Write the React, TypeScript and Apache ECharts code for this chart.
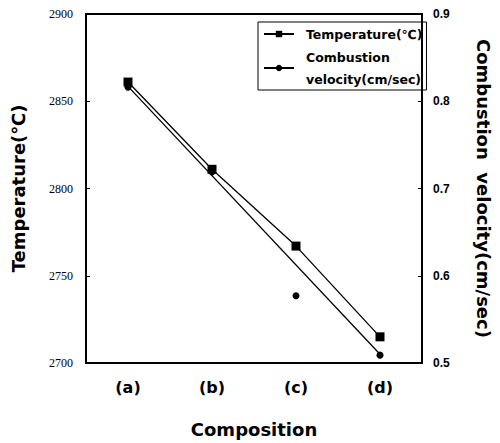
import React, { useEffect, useRef } from "react";
import * as echarts from "echarts";

const categories = ["(a)", "(b)", "(c)", "(d)"];
const temperature = [2861, 2811, 2767, 2715];
const velocityPoints = [0.816, 0.719, 0.577, 0.509];
const velocityFit: [number, number][] = [
  [0, 0.817],
  [3, 0.51],
];
const tempTicks = { min: 2700, max: 2900, interval: 50 };
const velTicks = { min: 0.5, max: 0.9, interval: 0.1 };

const SANS = "Liberation Sans, Arial, sans-serif";
const WIDE = "DejaVu Sans, sans-serif";
const VEL_NAME = "Combustion\nvelocity(cm/sec)";

export default function App() {
  const ref = useRef<HTMLDivElement>(null);
  useEffect(() => {
    if (!ref.current) return;
    const chart = echarts.init(ref.current, undefined, { renderer: "svg" });
    chart.setOption({
      animation: false,
      backgroundColor: "#fff",
      grid: {
        left: 86,
        right: 65,
        top: 14,
        bottom: 73,
        show: true,
        borderColor: "#000",
        borderWidth: 2,
      },
      legend: {
        orient: "vertical",
        left: 258,
        top: 22,
        borderColor: "#000",
        borderWidth: 1,
        padding: [1, 4, 0, 5],
        itemGap: 1,
        itemWidth: 30,
        itemHeight: 8,
        data: ["Temperature(℃)", VEL_NAME],
        textStyle: {
          fontFamily: WIDE,
          fontWeight: "bold",
          fontSize: 12.5,
          color: "#000",
          lineHeight: 22,
          padding: [0, 0, 0, 7],
        },
      },
      xAxis: {
        type: "category",
        data: categories,
        boundaryGap: true,
        name: "Composition",
        nameLocation: "middle",
        nameGap: 57,
        nameTextStyle: {
          fontFamily: WIDE,
          fontWeight: "bold",
          fontSize: 18,
          color: "#000",
        },
        axisLine: { show: true, lineStyle: { color: "#000", width: 2 } },
        axisTick: { show: false },
        axisLabel: {
          fontFamily: WIDE,
          fontWeight: "bold",
          fontSize: 16,
          color: "#000",
          margin: 16,
        },
        splitLine: { show: false },
      },
      yAxis: [
        {
          type: "value",
          min: tempTicks.min,
          max: tempTicks.max,
          interval: tempTicks.interval,
          name: "Temperature(℃)",
          nameLocation: "middle",
          nameRotate: 90,
          nameGap: 59,
          nameTextStyle: {
            fontFamily: WIDE,
            fontWeight: "bold",
            fontSize: 18,
            color: "#000",
          },
          axisLine: { show: true, lineStyle: { color: "#000", width: 2 } },
          axisTick: { show: true, inside: true, length: 4, lineStyle: { color: "#000" } },
          axisLabel: {
            fontFamily: "Liberation Serif, serif",
            fontSize: 12,
            color: "#000",
            margin: 13,
            formatter: (v: number) => String(v),
          },
          splitLine: { show: false },
        },
        {
          type: "value",
          min: velTicks.min,
          max: velTicks.max,
          interval: velTicks.interval,
          position: "right",
          name: "Combustion  velocity(cm/sec)",
          nameLocation: "middle",
          nameRotate: -90,
          nameGap: 52,
          nameTextStyle: {
            fontFamily: WIDE,
            fontWeight: "bold",
            fontSize: 18,
            color: "#000",
          },
          axisLine: { show: true, lineStyle: { color: "#000", width: 2 } },
          axisTick: { show: true, inside: true, length: 4, lineStyle: { color: "#000" } },
          axisLabel: {
            fontFamily: SANS,
            fontWeight: "bold",
            fontSize: 12,
            color: "#000",
            margin: 11,
            formatter: (v: number) => v.toFixed(1),
          },
          splitLine: { show: false },
        },
      ],
      series: [
        {
          name: "Temperature(℃)",
          type: "line",
          yAxisIndex: 0,
          data: temperature,
          symbol: "rect",
          symbolSize: 9,
          itemStyle: { color: "#000" },
          lineStyle: { color: "#000", width: 1.3 },
        },
        {
          name: VEL_NAME,
          type: "line",
          yAxisIndex: 1,
          data: velocityFit,
          symbol: "circle",
          symbolSize: 7,
          showSymbol: false,
          itemStyle: { color: "#000" },
          lineStyle: { color: "#000", width: 1.3 },
        },
        {
          name: VEL_NAME,
          type: "scatter",
          yAxisIndex: 1,
          data: velocityPoints,
          symbol: "circle",
          symbolSize: 7,
          itemStyle: { color: "#000", opacity: 1 },
        },
      ],
    });
    return () => chart.dispose();
  }, []);
  return (
    <div
      ref={ref}
      style={{ position: "fixed", left: 0, top: 0, width: 500, height: 443, background: "#fff" }}
    />
  );
}
